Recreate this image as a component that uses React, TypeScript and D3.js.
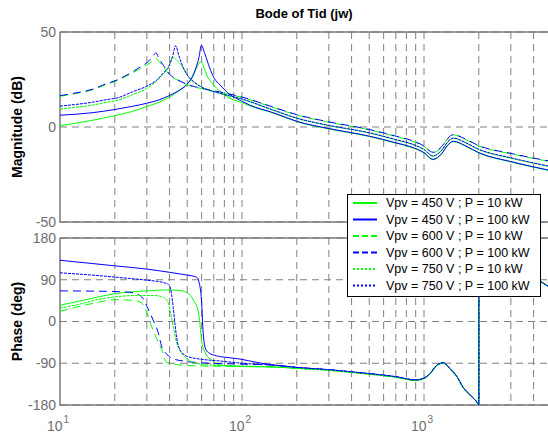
import React from 'react';
import * as d3 from 'd3';

type Pt = [number, number];

// legend entries (same order as the series below)
const legendLabels = [
  'Vpv = 450 V ; P = 10 kW',
  'Vpv = 450 V ; P = 100 kW',
  'Vpv = 600 V ; P = 10 kW',
  'Vpv = 600 V ; P = 100 kW',
  'Vpv = 750 V ; P = 10 kW',
  'Vpv = 750 V ; P = 100 kW',
];

const magTicks = [-50, 0, 50];
const phaseTicks = [-180, -90, 0, 90, 180];
const decadeTicks = [10, 100, 1000];

// magnitude (dB), [Hz, dB]
const magG450: Pt[] = [[10, 0.7], [15, 3.5], [20, 6], [25, 8.2], [30, 10.8], [35, 13], [40, 15.8], [45, 19], [50, 22.8], [54, 27], [56.5, 31.5], [59.3, 34.4], [62, 31], [64, 27.4], [68, 23.5], [72.5, 20.4], [86, 15.1], [100, 12.8], [110, 11.2], [150, 7.2], [200, 2.8], [300, -1.0], [500, -5.0], [700, -8.5], [850, -10.7], [1000, -13.7], [1120, -17.2], [1250, -14.2], [1350, -9.7], [1450, -7.7], [1700, -10.2], [2000, -13.7], [3000, -18.4], [4800, -22.8]];
const magB450: Pt[] = [[10, 6.2], [15, 7.5], [20, 9.2], [25, 10.9], [30, 12.5], [35, 14.3], [40, 16.6], [45, 19.2], [50, 22.5], [53, 26], [56, 31.5], [58, 36.5], [59.8, 43], [62.5, 38.5], [66.5, 31], [70, 26], [76, 22], [86, 17], [98, 14], [110, 11.6], [150, 7.4], [200, 3.0], [300, -0.8], [500, -4.8], [700, -8.3], [850, -10.5], [1000, -13.5], [1120, -17.0], [1250, -14.0], [1350, -9.5], [1450, -7.5], [1700, -10.0], [2000, -13.5], [3000, -18.2], [4800, -22.6]];
const magG600: Pt[] = [[10, 16.2], [12, 17.5], [15, 19.5], [18, 22.4], [20, 23.9], [24, 27.5], [27, 30.2], [30, 32.6], [32, 34.5], [33.7, 36], [35, 34.5], [37, 31.5], [40, 27.5], [45, 24.3], [55, 21], [60, 20.2], [75, 18.3], [98, 15.8], [150, 10.1], [200, 6.3], [300, 2.5], [500, -1.5], [700, -5.0], [850, -7.2], [1000, -10.2], [1120, -13.5], [1250, -10.5], [1350, -6.2], [1450, -4.2], [1700, -6.7], [2000, -10.0], [3000, -14.1], [4800, -18.0]];
const magB600: Pt[] = [[10, 16.5], [12, 17.8], [15, 19.8], [18, 22.8], [20, 24.3], [24, 28], [27, 31], [30, 33.8], [32, 36.5], [33.7, 39], [35, 36], [37, 32.5], [40, 27.8], [45, 24.5], [55, 21.2], [60, 20.4], [75, 18.5], [98, 16], [150, 10.3], [200, 6.5], [300, 2.7], [500, -1.3], [700, -4.8], [850, -7.0], [1000, -10.0], [1120, -13.3], [1250, -10.3], [1350, -6.0], [1450, -4.0], [1700, -6.5], [2000, -9.8], [3000, -13.9], [4800, -17.8]];
const magG750: Pt[] = [[10, 9.5], [12, 10.3], [15, 11.5], [18, 13], [21, 14.2], [25, 17], [30, 20.3], [34, 24.3], [37, 28], [39.5, 32], [41.7, 36.8], [43.5, 35.5], [45.6, 33.5], [50.7, 26.5], [54, 23.8], [60, 21], [75, 17.8], [98, 14.8], [150, 8.6], [200, 4.5], [300, 0.7], [500, -3.2], [700, -6.8], [850, -9.0], [1000, -12.0], [1120, -15.4], [1250, -12.4], [1350, -8.0], [1450, -6.0], [1700, -8.5], [2000, -11.9], [3000, -16.4], [4800, -20.7]];
const magB750: Pt[] = [[10, 11], [12, 11.8], [15, 13], [18, 14.4], [21, 15.5], [25, 18.5], [30, 21.5], [34, 24.7], [37, 28.5], [39.5, 31.5], [41.5, 37], [43.2, 42.8], [45, 37.5], [47.2, 32], [50, 27.5], [54, 24], [60, 21], [75, 17.8], [98, 15], [150, 8.8], [200, 4.7], [300, 0.9], [500, -3.0], [700, -6.6], [850, -8.8], [1000, -11.8], [1120, -15.2], [1250, -12.2], [1350, -7.8], [1450, -5.8], [1700, -8.3], [2000, -11.7], [3000, -16.2], [4800, -20.5]];

// phase (deg) above 150 Hz, where all curves lie on top of each other
const phTailBlue: Pt[] = [[150, -94], [200, -99], [300, -104], [460, -111], [700, -119], [900, -126], [1000, -122], [1080, -112], [1170, -95], [1276, -89], [1400, -103], [1513, -118], [1640, -142], [1790, -158], [1986, -178], [2000, -180], [2001, 180], [2500, 150], [3000, 128], [4000, 96], [4800, 76]];
const phTailGreen: Pt[] = [[150, -98], [200, -101], [300, -105], [460, -112], [700, -120], [900, -127], [1000, -123], [1080, -113], [1170, -96], [1276, -90], [1400, -104], [1513, -119], [1640, -143], [1790, -159], [1986, -178], [2000, -180], [2001, 180], [2500, 150], [3000, 128], [4000, 96], [4800, 76]];

const phG450: Pt[] = [[10, 35], [15, 50], [20, 60], [30, 66], [38, 68], [45, 67], [49.7, 62.5], [54.1, 46], [57.5, 21], [58.7, -4], [59.9, -40], [62.9, -68], [68.1, -83], [75.7, -94], [97.6, -97], ...phTailGreen];
const phB450: Pt[] = [[10, 132], [15, 125], [20, 120], [30, 113], [40, 106], [50, 100], [55, 97], [57, 94], [58.2, 83], [59.9, 46], [61.2, -25], [63.4, -61], [66, -68], [72.5, -74], [85, -78], [97.6, -81], [120, -88], ...phTailBlue];
const phG600: Pt[] = [[10, 22], [15.6, 40], [20, 47], [25.8, 45], [28, 40], [29.3, 30], [30.5, 12], [31.9, -11], [33.9, -36], [36.2, -61], [38.5, -88], [50, -95], [100, -97], ...phTailGreen];
const phB600: Pt[] = [[10, 66], [18, 65], [24, 63], [27, 58], [28.5, 50], [29.9, 34], [32.5, 3], [34.7, -25], [36.2, -54], [38.5, -70], [41, -79], [49, -86], [60, -89], [100, -92], ...phTailBlue];
const phG750: Pt[] = [[10, 29], [13, 38], [16, 47], [20, 53], [26, 56], [33, 56], [37, 52], [39.4, 40], [40.2, 25], [41.9, -11], [43.8, -47], [46.6, -68], [51.8, -85], [60, -92], [75, -95], [100, -96], ...phTailGreen];
const phB750: Pt[] = [[10, 105], [17.3, 98], [20.9, 95], [30, 89], [37, 84], [40, 78], [41, 59], [41.9, 30], [42.8, -4], [43.8, -36], [45.6, -61], [49.7, -75], [58.7, -81], [75, -85], [100, -90], ...phTailBlue];

const GREEN = '#00ff00';
const BLUE = '#0000ff';
const FONT = '"Liberation Sans", Arial, Helvetica, sans-serif';
const GRID = '#808080';

const series = [
  { mag: magG450, ph: phG450, color: GREEN, dash: null, legendDash: null },
  { mag: magB450, ph: phB450, color: BLUE, dash: null, legendDash: null },
  { mag: magG600, ph: phG600, color: GREEN, dash: '8,5', legendDash: '6,3' },
  { mag: magB600, ph: phB600, color: BLUE, dash: '8,5', legendDash: '6,3' },
  { mag: magG750, ph: phG750, color: GREEN, dash: '3,1', legendDash: '2,2' },
  { mag: magB750, ph: phB750, color: BLUE, dash: '3,1', legendDash: '2,2' },
];

export default function App() {
  const width = 548;
  const height = 437;
  const left = 60;
  const right = 548;
  const mag = { top: 32, bottom: 222 };
  const ph = { top: 238, bottom: 405 };

  const x = d3.scaleLog().domain([10, 4800]).range([left, right]);
  const yMag = d3.scaleLinear().domain([-50, 50]).range([mag.bottom, mag.top]);
  const yPh = d3.scaleLinear().domain([-180, 180]).range([ph.bottom, ph.top]);

  const gridX = x.ticks().filter(v => v > 10);

  const magLine = d3.line<Pt>().x(d => x(d[0])).y(d => yMag(d[1])).curve(d3.curveMonotoneX);
  const phLine = d3.line<Pt>().x(d => x(d[0])).y(d => yPh(d[1])).curve(d3.curveMonotoneX);

  const panel = (top: number, bottom: number, y: d3.ScaleLinear<number, number>, ticks: number[], id: string) => (
    <g>
      <defs>
        <clipPath id={id}>
          <rect x={left} y={top} width={right - left} height={bottom - top} />
        </clipPath>
      </defs>
      {gridX.map(v => (
        <line key={'gx' + v} x1={x(v)} x2={x(v)} y1={top} y2={bottom} stroke={GRID} strokeDasharray="7,5" />
      ))}
      {ticks.map(v => (
        <line key={'gy' + v} x1={left} x2={right} y1={y(v)} y2={y(v)} stroke={GRID} strokeDasharray="7,5" />
      ))}
      <path d={`M${left},${top}H${right + 2}M${left},${top}V${bottom}H${right + 2}`} fill="none" stroke="#7a7a7a" strokeWidth={1.5} />
      {ticks.map(v => (
        <text key={'ty' + v} x={left - 4} y={y(v)} dy="0.35em" textAnchor="end" fontSize={14} fill="#6e6e6e" fontFamily={FONT}>
          {v}
        </text>
      ))}
    </g>
  );

  const legendTop = 194;
  const rowH = 16.5;

  return (
    <svg width={width} height={height} style={{ position: 'absolute', left: 0, top: 0, background: '#fff' }}>
      <rect width={width} height={height} fill="#fff" />
      <text x={304} y={18} textAnchor="middle" fontSize={13} fontWeight="bold" fontFamily={FONT}>
        Bode of Tid (jw)
      </text>

      {panel(mag.top, mag.bottom, yMag, magTicks, 'clipMag')}
      {panel(ph.top, ph.bottom, yPh, phaseTicks, 'clipPh')}

      <g clipPath="url(#clipMag)">
        {series.map((s, i) => (
          <path key={'m' + i} d={magLine(s.mag) || ''} fill="none" stroke={s.color} strokeWidth={1} strokeDasharray={s.dash || undefined} />
        ))}
      </g>
      <g clipPath="url(#clipPh)">
        {series.map((s, i) => (
          <path key={'p' + i} d={phLine(s.ph) || ''} fill="none" stroke={s.color} strokeWidth={1} strokeDasharray={s.dash || undefined} />
        ))}
      </g>

      {decadeTicks.map((v, i) => (
        <text key={'tx' + v} x={x(v) - 2} y={431} textAnchor="middle" fontSize={14} fill="#6e6e6e" fontFamily={FONT}>
          10
          <tspan dx={1} dy={-8} fontSize={10}>{i + 1}</tspan>
        </text>
      ))}

      <text transform={`translate(22,${(mag.top + mag.bottom) / 2}) rotate(-90)`} textAnchor="middle" fontSize={14} fontWeight="bold" fontFamily={FONT}>
        Magnitude (dB)
      </text>
      <text transform={`translate(22,${(ph.top + ph.bottom) / 2}) rotate(-90)`} textAnchor="middle" fontSize={14} fontWeight="bold" fontFamily={FONT}>
        Phase (deg)
      </text>

      <g>
        <rect x={347.5} y={legendTop + 0.5} width={193} height={102} fill="#fff" stroke="#000" strokeWidth={1} />
        {legendLabels.map((label, i) => {
          const yy = legendTop + 9 + i * rowH;
          const s = series[i];
          return (
            <g key={label}>
              <line x1={353} x2={377} y1={yy} y2={yy} stroke={s.color} strokeWidth={2} strokeDasharray={s.legendDash || undefined} />
              <text x={386} y={yy} dy="0.35em" fontSize={12.5} fontFamily={FONT} fill="#000">
                {label}
              </text>
            </g>
          );
        })}
      </g>
    </svg>
  );
}
